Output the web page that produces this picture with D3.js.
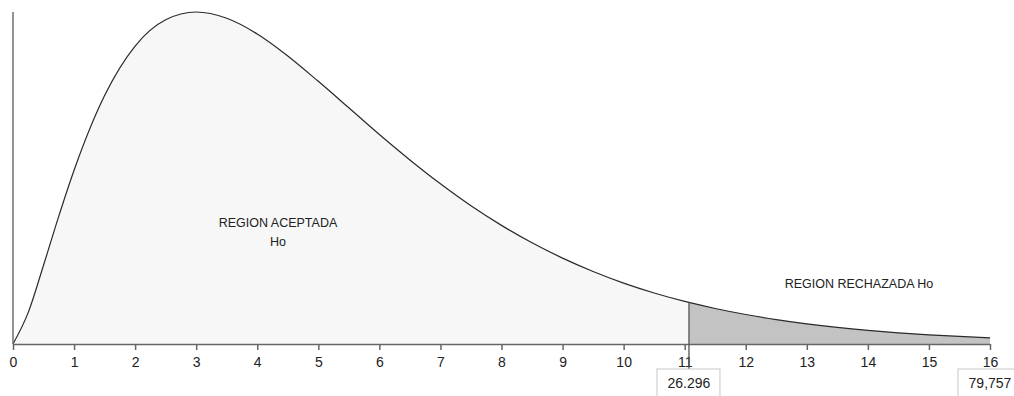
<!DOCTYPE html>
<html>
<head>
<meta charset="utf-8">
<script src="https://cdn.jsdelivr.net/npm/d3@7"></script>
<style>
  body { margin: 0; background: #fff; }
  text { font-family: "Liberation Sans", Arial, sans-serif; }
</style>
</head>
<body>
<script>
var width = 1014;
var height = 396;

// curve points (x, density)
var xs = [0, 0.25, 0.5, 0.75, 1, 1.5, 2, 2.5, 3, 3.5, 4, 4.5, 5, 5.5, 6, 6.5, 7, 7.5, 8,
  8.5, 9, 9.5, 10, 10.5, 11, 11.07, 11.5, 12, 12.5, 13, 13.5, 14, 14.5, 15, 15.5, 16];
var dens = [0, 0.0147, 0.0366, 0.0594, 0.0807, 0.1154, 0.1384, 0.1506, 0.1542, 0.1513,
  0.1440, 0.1338, 0.1220, 0.1097, 0.0973, 0.0855, 0.0744, 0.0642, 0.0551, 0.0470, 0.0399,
  0.0337, 0.0283, 0.0237, 0.0198, 0.0193, 0.0165, 0.0137, 0.01135, 0.00937, 0.00772,
  0.00635, 0.00521, 0.00427, 0.00350, 0.00285];

var ticks = [0, 1, 2, 3, 4, 5, 6, 7, 8, 9, 10, 11, 12, 13, 14, 15, 16];
var critX = 11.07;
var markers = [{x: 11.07, label: '26.296'}, {x: 16, label: '79,757'}];
var regionAcc = ['REGION ACEPTADA', 'Ho'];
var regionRej = 'REGION RECHAZADA Ho';

var pts = xs.map(function(x, i){ return {x: x, y: dens[i]}; });

var svg = d3.select('body').append('svg')
  .attr('width', width)
  .attr('height', height);

var x = d3.scaleLinear().domain([0, 16]).range([13, 990]);
var y = d3.scaleLinear().domain([0, 0.1542]).range([344, 12]);

var area = d3.area()
  .curve(d3.curveMonotoneX)
  .x(function(d){ return x(d.x); })
  .y0(y(0))
  .y1(function(d){ return y(d.y); });

var line = d3.line()
  .curve(d3.curveMonotoneX)
  .x(function(d){ return x(d.x); })
  .y(function(d){ return y(d.y); });

//acceptance region
svg.append('path')
  .datum(pts.filter(function(d){ return d.x <= critX; }))
  .attr('fill', '#f7f7f7')
  .attr('d', area);

//rejection region
svg.append('path')
  .datum(pts.filter(function(d){ return d.x >= critX; }))
  .attr('fill', '#c3c3c3')
  .attr('d', area);

svg.append('path')
  .datum(pts)
  .attr('fill', 'none')
  .attr('stroke', '#2a2a2a')
  .attr('stroke-width', 1.2)
  .attr('d', line);

//y axis line
svg.append('line')
  .attr('x1', x(0)).attr('x2', x(0))
  .attr('y1', y(0.1542)).attr('y2', y(0))
  .attr('stroke', '#6f6f6f')
  .attr('stroke-width', 1.5);

//x axis
var xAxis = d3.axisBottom(x)
  .tickValues(ticks)
  .tickSize(6)
  .tickSizeOuter(0)
  .tickFormat(d3.format('d'));

var gx = svg.append('g')
  .attr('transform', 'translate(0,' + y(0) + ')')
  .call(xAxis);
gx.select('.domain').attr('stroke', '#666').attr('stroke-width', 1.5);
gx.selectAll('.tick line').attr('stroke', '#666').attr('stroke-width', 1.5);
gx.selectAll('.tick text')
  .attr('fill', '#222')
  .attr('font-size', 14)
  .attr('font-family', '"Liberation Sans", Arial, sans-serif')
  .attr('dy', '0.75em')
  .attr('y', 12);

//critical value markers
markers.forEach(function(m) {
  var cx = x(m.x);
  var d = pts.filter(function(p){ return p.x === m.x; })[0];
  if (m.x < 16) {
    svg.append('line')
      .attr('x1', cx).attr('x2', cx)
      .attr('y1', y(d.y)).attr('y2', 369)
      .attr('stroke', '#555')
      .attr('stroke-width', 1.3);
  }
  svg.append('rect')
    .attr('x', cx - 32).attr('y', 369)
    .attr('width', 63).attr('height', 30)
    .attr('fill', '#fff')
    .attr('stroke', '#c8c8c8');
  svg.append('text')
    .attr('x', cx).attr('y', 388)
    .attr('text-anchor', 'middle')
    .attr('font-size', 14)
    .attr('fill', '#222')
    .text(m.label);
});

//region labels
svg.append('text')
  .attr('x', 278).attr('y', 227)
  .attr('text-anchor', 'middle')
  .attr('font-size', 12.5)
  .attr('fill', '#222')
  .selectAll('tspan').data(regionAcc).enter().append('tspan')
  .attr('x', 278)
  .attr('dy', function(d, i){ return i ? 18.5 : 0; })
  .text(function(d){ return d; });

svg.append('text')
  .attr('x', 859).attr('y', 288)
  .attr('text-anchor', 'middle')
  .attr('font-size', 12.5)
  .attr('fill', '#222')
  .text(regionRej);
</script>
</body>
</html>
